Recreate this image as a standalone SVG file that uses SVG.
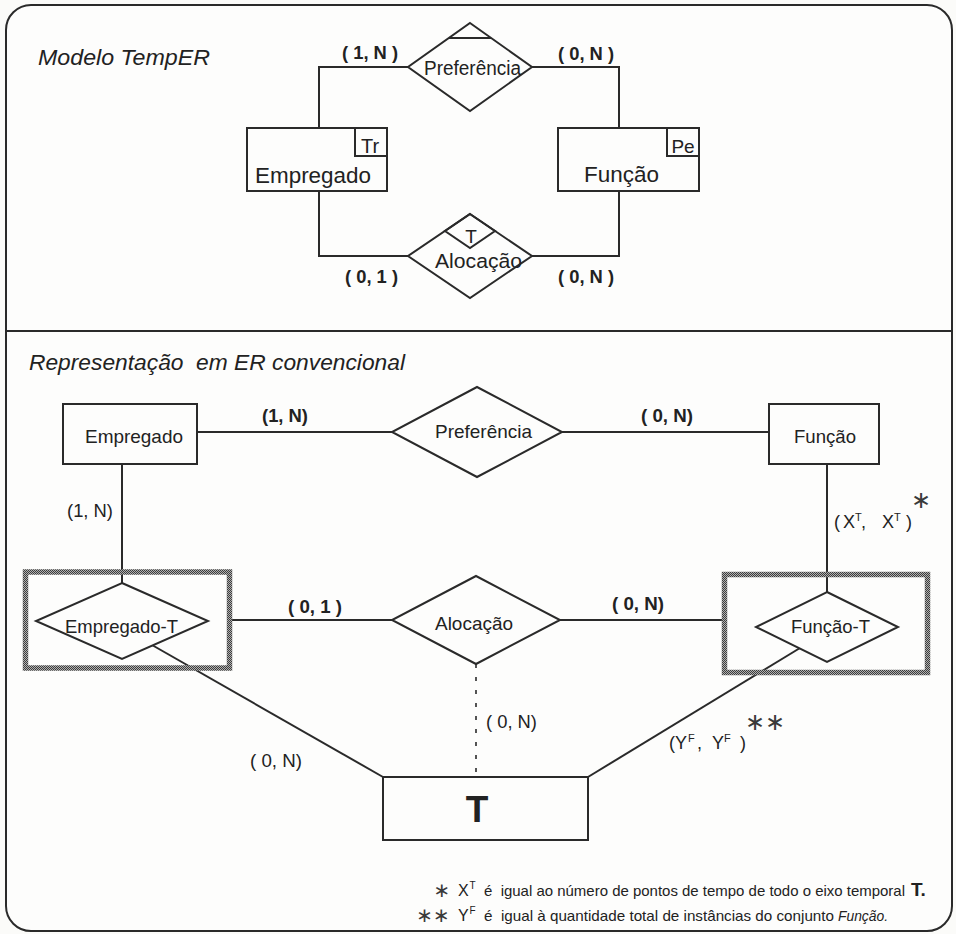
<svg xmlns="http://www.w3.org/2000/svg" width="956" height="934" viewBox="0 0 956 934">
  <defs>
    <style>
      .ln { fill: none; stroke: #2a2a2a; stroke-width: 2; }
      .ent { fill: none; stroke: #2a2a2a; stroke-width: 2; }
      .rel { fill: #fdfdfc; stroke: #2a2a2a; stroke-width: 2; stroke-linejoin: miter; }
      .assoc { fill: none; stroke: url(#stipple); stroke-width: 5.5; }
      .dash { fill: none; stroke: #2a2a2a; stroke-width: 1.6; stroke-dasharray: 4 9; }
      .t { font-family: "Liberation Sans", Arial, Helvetica, sans-serif; fill: #222; }
      .b { font-weight: bold; }
      .i { font-style: italic; }
      .star { font-family: "DejaVu Sans", sans-serif; fill: #3a3a3a; }
    </style>
    <!-- dithered grey used for the border of associative entities -->
    <pattern id="stipple" width="2" height="2" patternUnits="userSpaceOnUse">
      <rect width="2" height="2" fill="#b0b0b0"/>
      <rect width="1" height="1" fill="#3c3c3c"/>
      <rect x="1" y="1" width="1" height="1" fill="#3c3c3c"/>
    </pattern>
  </defs>

  <rect width="956" height="934" fill="#fbfbf9"/>

  <!-- outer frame and panel divider -->
  <g id="frame">
    <rect x="6" y="5" width="946" height="926" rx="25" ry="25" fill="#fdfdfc" stroke="#2a2a2a" stroke-width="2"/>
    <line x1="6" y1="331" x2="952" y2="331" stroke="#2a2a2a" stroke-width="2"/>
  </g>

  <!-- ===== upper panel: TempER model ===== -->
  <text class="t i" x="38" y="65" font-size="22" textLength="172" lengthAdjust="spacingAndGlyphs">Modelo TempER</text>

  <g id="temper-connectors">
    <polyline class="ln" points="319,128 319,67 408,67"/>
    <polyline class="ln" points="532,67 619,67 619,128"/>
    <polyline class="ln" points="319,191 319,256 408,256"/>
    <polyline class="ln" points="619,191 619,256 532,256"/>
    <text class="t b" x="342" y="59" font-size="19" textLength="56" lengthAdjust="spacingAndGlyphs">( 1, N )</text>
    <text class="t b" x="558" y="60" font-size="19" textLength="56" lengthAdjust="spacingAndGlyphs">( 0, N )</text>
    <text class="t b" x="345" y="283" font-size="19" textLength="53" lengthAdjust="spacingAndGlyphs">( 0, 1 )</text>
    <text class="t b" x="558" y="283" font-size="19" textLength="56" lengthAdjust="spacingAndGlyphs">( 0, N )</text>
  </g>

  <g id="temper-empregado">
    <rect class="ent" x="247" y="128" width="140" height="63"/>
    <rect class="ent" x="355" y="128" width="32" height="28"/>
    <text class="t" x="370" y="153" font-size="20" text-anchor="middle">Tr</text>
    <text class="t" x="255" y="183" font-size="22" textLength="116" lengthAdjust="spacingAndGlyphs">Empregado</text>
  </g>

  <g id="temper-funcao">
    <rect class="ent" x="558" y="128" width="141" height="63"/>
    <rect class="ent" x="667" y="128" width="32" height="28"/>
    <text class="t" x="683" y="153" font-size="19" text-anchor="middle">Pe</text>
    <text class="t" x="584" y="182" font-size="22" textLength="75" lengthAdjust="spacingAndGlyphs">Função</text>
  </g>

  <g id="temper-preferencia">
    <polygon class="rel" points="470,23 532,67 470,111 408,67"/>
    <line class="ln" x1="449" y1="38" x2="491" y2="38"/>
    <text class="t" x="424" y="75" font-size="20" textLength="97" lengthAdjust="spacingAndGlyphs">Preferência</text>
  </g>

  <g id="temper-alocacao">
    <polygon class="rel" points="470,214 532,256 470,298 408,256"/>
    <polygon class="ln" points="470,214 495,231 470,248 445,231"/>
    <text class="t" x="471" y="243" font-size="19" text-anchor="middle">T</text>
    <text class="t" x="435" y="268" font-size="20.5" textLength="87" lengthAdjust="spacingAndGlyphs">Alocação</text>
  </g>

  <!-- ===== lower panel: conventional ER ===== -->
  <text class="t i" x="29" y="370" font-size="22.5" textLength="376" lengthAdjust="spacingAndGlyphs" xml:space="preserve">Representação  em ER convencional</text>

  <g id="er-connectors">
    <line class="ln" x1="197" y1="432" x2="392" y2="432"/>
    <line class="ln" x1="562" y1="432" x2="769" y2="432"/>
    <line class="ln" x1="122" y1="464" x2="122" y2="583"/>
    <line class="ln" x1="827" y1="464" x2="827" y2="592"/>
    <line class="ln" x1="232" y1="620" x2="392" y2="620"/>
    <line class="ln" x1="560" y1="620" x2="722" y2="620"/>
    <line class="dash" x1="476" y1="664" x2="476" y2="777"/>
    <line class="ln" x1="152" y1="645" x2="383" y2="777"/>
    <line class="ln" x1="588" y1="777" x2="800" y2="648"/>

    <text class="t b" x="262" y="422" font-size="18" textLength="46" lengthAdjust="spacingAndGlyphs">(1, N)</text>
    <text class="t b" x="641" y="422" font-size="18" textLength="52" lengthAdjust="spacingAndGlyphs">( 0, N)</text>
    <text class="t" x="67" y="517" font-size="18" textLength="46" lengthAdjust="spacingAndGlyphs">(1, N)</text>
    <text class="t b" x="288" y="613" font-size="18" textLength="54" lengthAdjust="spacingAndGlyphs">( 0, 1 )</text>
    <text class="t b" x="612" y="610" font-size="18" textLength="52" lengthAdjust="spacingAndGlyphs">( 0, N)</text>
    <text class="t" x="486" y="728" font-size="18" textLength="51" lengthAdjust="spacingAndGlyphs">( 0, N)</text>
    <text class="t" x="250" y="767" font-size="18" textLength="52" lengthAdjust="spacingAndGlyphs">( 0, N)</text>

    <text class="t" font-size="18" y="528"><tspan x="834">(</tspan><tspan x="843">X</tspan><tspan x="855" y="521" font-size="11">T</tspan><tspan x="861" y="528">,</tspan><tspan x="882">X</tspan><tspan x="894" y="521" font-size="11">T</tspan><tspan x="906" y="528">)</tspan></text>
    <text class="star" x="921" y="508" font-size="24" text-anchor="middle">∗</text>

    <text class="t" font-size="18" y="749"><tspan x="669">(</tspan><tspan x="675">Y</tspan><tspan x="688" y="742" font-size="11">F</tspan><tspan x="697" y="749">,</tspan><tspan x="712">Y</tspan><tspan x="724" y="742" font-size="11">F</tspan><tspan x="740" y="749">)</tspan></text>
    <text class="star" x="765" y="730" font-size="24" text-anchor="middle">∗∗</text>
  </g>

  <g id="er-empregado">
    <rect class="ent" x="63" y="404" width="134" height="60"/>
    <text class="t" x="85" y="443" font-size="19" textLength="98" lengthAdjust="spacingAndGlyphs">Empregado</text>
  </g>

  <g id="er-funcao">
    <rect class="ent" x="769" y="404" width="110" height="60"/>
    <text class="t" x="794" y="443" font-size="19" textLength="62" lengthAdjust="spacingAndGlyphs">Função</text>
  </g>

  <g id="er-preferencia">
    <polygon class="rel" points="477,387 562,432 477,477 392,432"/>
    <text class="t" x="435" y="438" font-size="19" textLength="97" lengthAdjust="spacingAndGlyphs">Preferência</text>
  </g>

  <g id="er-alocacao">
    <polygon class="rel" points="476,576 560,620 476,664 392,620"/>
    <text class="t" x="435" y="630" font-size="19" textLength="78" lengthAdjust="spacingAndGlyphs">Alocação</text>
  </g>

  <g id="er-empregado-t">
    <rect class="assoc" x="25.5" y="572" width="204" height="96"/>
    <polygon class="rel" points="122,583 208,621 122,659 36,621"/>
    <text class="t" x="65" y="633" font-size="18.5" textLength="113" lengthAdjust="spacingAndGlyphs">Empregado-T</text>
  </g>

  <g id="er-funcao-t">
    <rect class="assoc" x="724.5" y="574.5" width="203" height="98"/>
    <polygon class="rel" points="827,592 898,627 827,662 756,627"/>
    <text class="t" x="791" y="633" font-size="18.5" textLength="79" lengthAdjust="spacingAndGlyphs">Função-T</text>
  </g>

  <g id="er-t">
    <rect class="ent" x="383" y="777" width="205" height="63" fill="#fdfdfc"/>
    <text class="t b" x="477" y="822" font-size="37" text-anchor="middle">T</text>
  </g>

  <!-- footnotes -->
  <g id="notes">
    <text class="star" x="442" y="897" font-size="20" text-anchor="middle">∗</text>
    <text class="t" font-size="16" y="896"><tspan x="458">X</tspan><tspan x="469.5" y="889" font-size="10">T</tspan></text>
    <text class="t" x="484" y="896" font-size="15" textLength="421" lengthAdjust="spacingAndGlyphs" xml:space="preserve">é  igual ao número de pontos de tempo de todo o eixo temporal</text>
    <text class="t b" x="911" y="896" font-size="19">T.</text>

    <text class="star" x="433" y="922" font-size="20" text-anchor="middle">∗∗</text>
    <text class="t" font-size="16" y="921"><tspan x="458">Y</tspan><tspan x="469.5" y="914" font-size="10">F</tspan></text>
    <text class="t" x="484" y="921" font-size="15" textLength="350" lengthAdjust="spacingAndGlyphs" xml:space="preserve">é  igual à quantidade total de instâncias do conjunto</text>
    <text class="t i" x="838" y="921" font-size="15.5" textLength="50" lengthAdjust="spacingAndGlyphs">Função.</text>
  </g>
</svg>
